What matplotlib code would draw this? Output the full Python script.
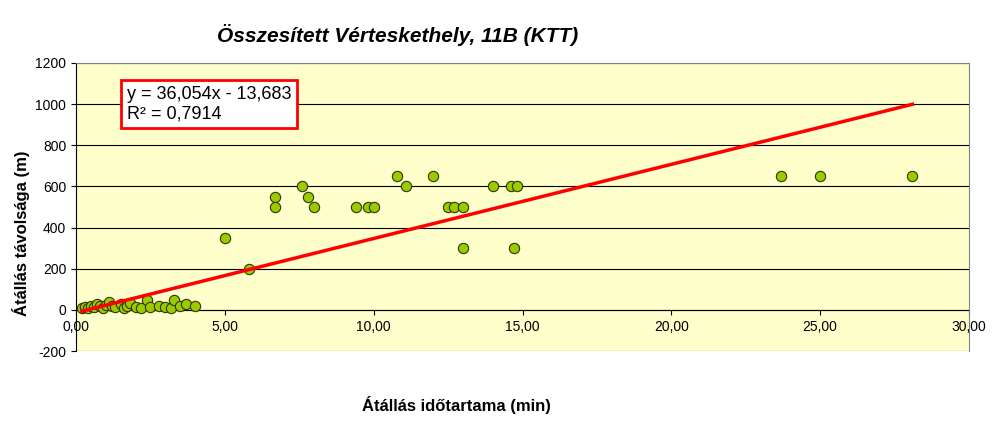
import matplotlib.pyplot as plt
import numpy as np

plt.rcParams['font.family'] = 'Liberation Sans'
plt.rcParams['axes.unicode_minus'] = False

# duration (min) and distance (m)
dur = [0.2, 0.3, 0.4, 0.5, 0.6, 0.7, 0.8, 0.9, 1.0, 1.1, 1.2, 1.3, 1.5, 1.6, 1.7, 1.8,
       2.0, 2.2, 2.4, 2.5, 2.8, 3.0, 3.2, 3.3, 3.5, 3.7, 4.0,
       5.0, 5.8, 6.7, 6.7, 7.6, 7.8, 8.0, 9.4, 9.8, 10.0, 10.8, 11.1, 12.0, 12.5, 12.7,
       13.0, 13.0, 14.0, 14.6, 14.8, 14.7, 23.7, 25.0, 28.1]
dist = [10, 15, 10, 20, 15, 30, 20, 10, 25, 40, 20, 15, 30, 10, 20, 35,
        15, 10, 50, 15, 20, 15, 10, 50, 20, 30, 20,
        350, 200, 550, 500, 600, 550, 500, 500, 500, 500, 650, 600, 650, 500, 500,
        500, 300, 600, 600, 600, 300, 650, 650, 650]
slope, intercept = 36.054, -13.683

fig = plt.figure(figsize=(9.93, 4.4), dpi=100)
ax = fig.add_axes([76/993, 1-351/440, (969-76)/993, (351-63)/440])
ax.set_facecolor('#ffffcc')
ax.set_xlim(0, 30)
ax.set_ylim(-200, 1200)
ax.set_yticks(range(-200, 1201, 200))
ax.set_xticks(range(0, 31, 5))
ax.set_xticklabels([f'{v},00' for v in range(0, 31, 5)])
for t in ax.get_xticklabels() + ax.get_yticklabels():
    t.set_fontweight('bold'); t.set_fontsize(10)
ax.grid(axis='y', color='black', linewidth=0.8)
ax.set_axisbelow(True)
for s in ['top', 'right']:
    ax.spines[s].set_color('#808080')
ax.spines['left'].set_position(('data', 0))
ax.spines['bottom'].set_position(('data', 0))
ax.spines['bottom'].set_zorder(1)

ax.scatter(dur, dist, s=55, c='#99cc00', edgecolors='#333300', linewidths=0.8, zorder=3)
xs = np.array([min(dur), max(dur)])
ax.plot(xs, slope*xs + intercept, color='#ff0000', linewidth=2.5, zorder=4)

ax.text(1.7, 1000, 'y = 36,054x - 13,683\nR² = 0,7914', fontsize=13, va='center',
        bbox=dict(facecolor='white', edgecolor='#ff0000', linewidth=2, pad=4), zorder=5)

fig.text(0.40, 0.905, 'Összesített Vérteskethely, 11B (KTT)', fontsize=15,
         fontweight='bold', style='italic', ha='center')
fig.text(0.46, 0.065, 'Átállás időtartama (min)', fontsize=12, fontweight='bold', ha='center')
fig.text(0.012, 0.47, 'Átállás távolsága (m)', fontsize=12, fontweight='bold',
         rotation=90, va='center')
fig.savefig('out.png', dpi=100)
